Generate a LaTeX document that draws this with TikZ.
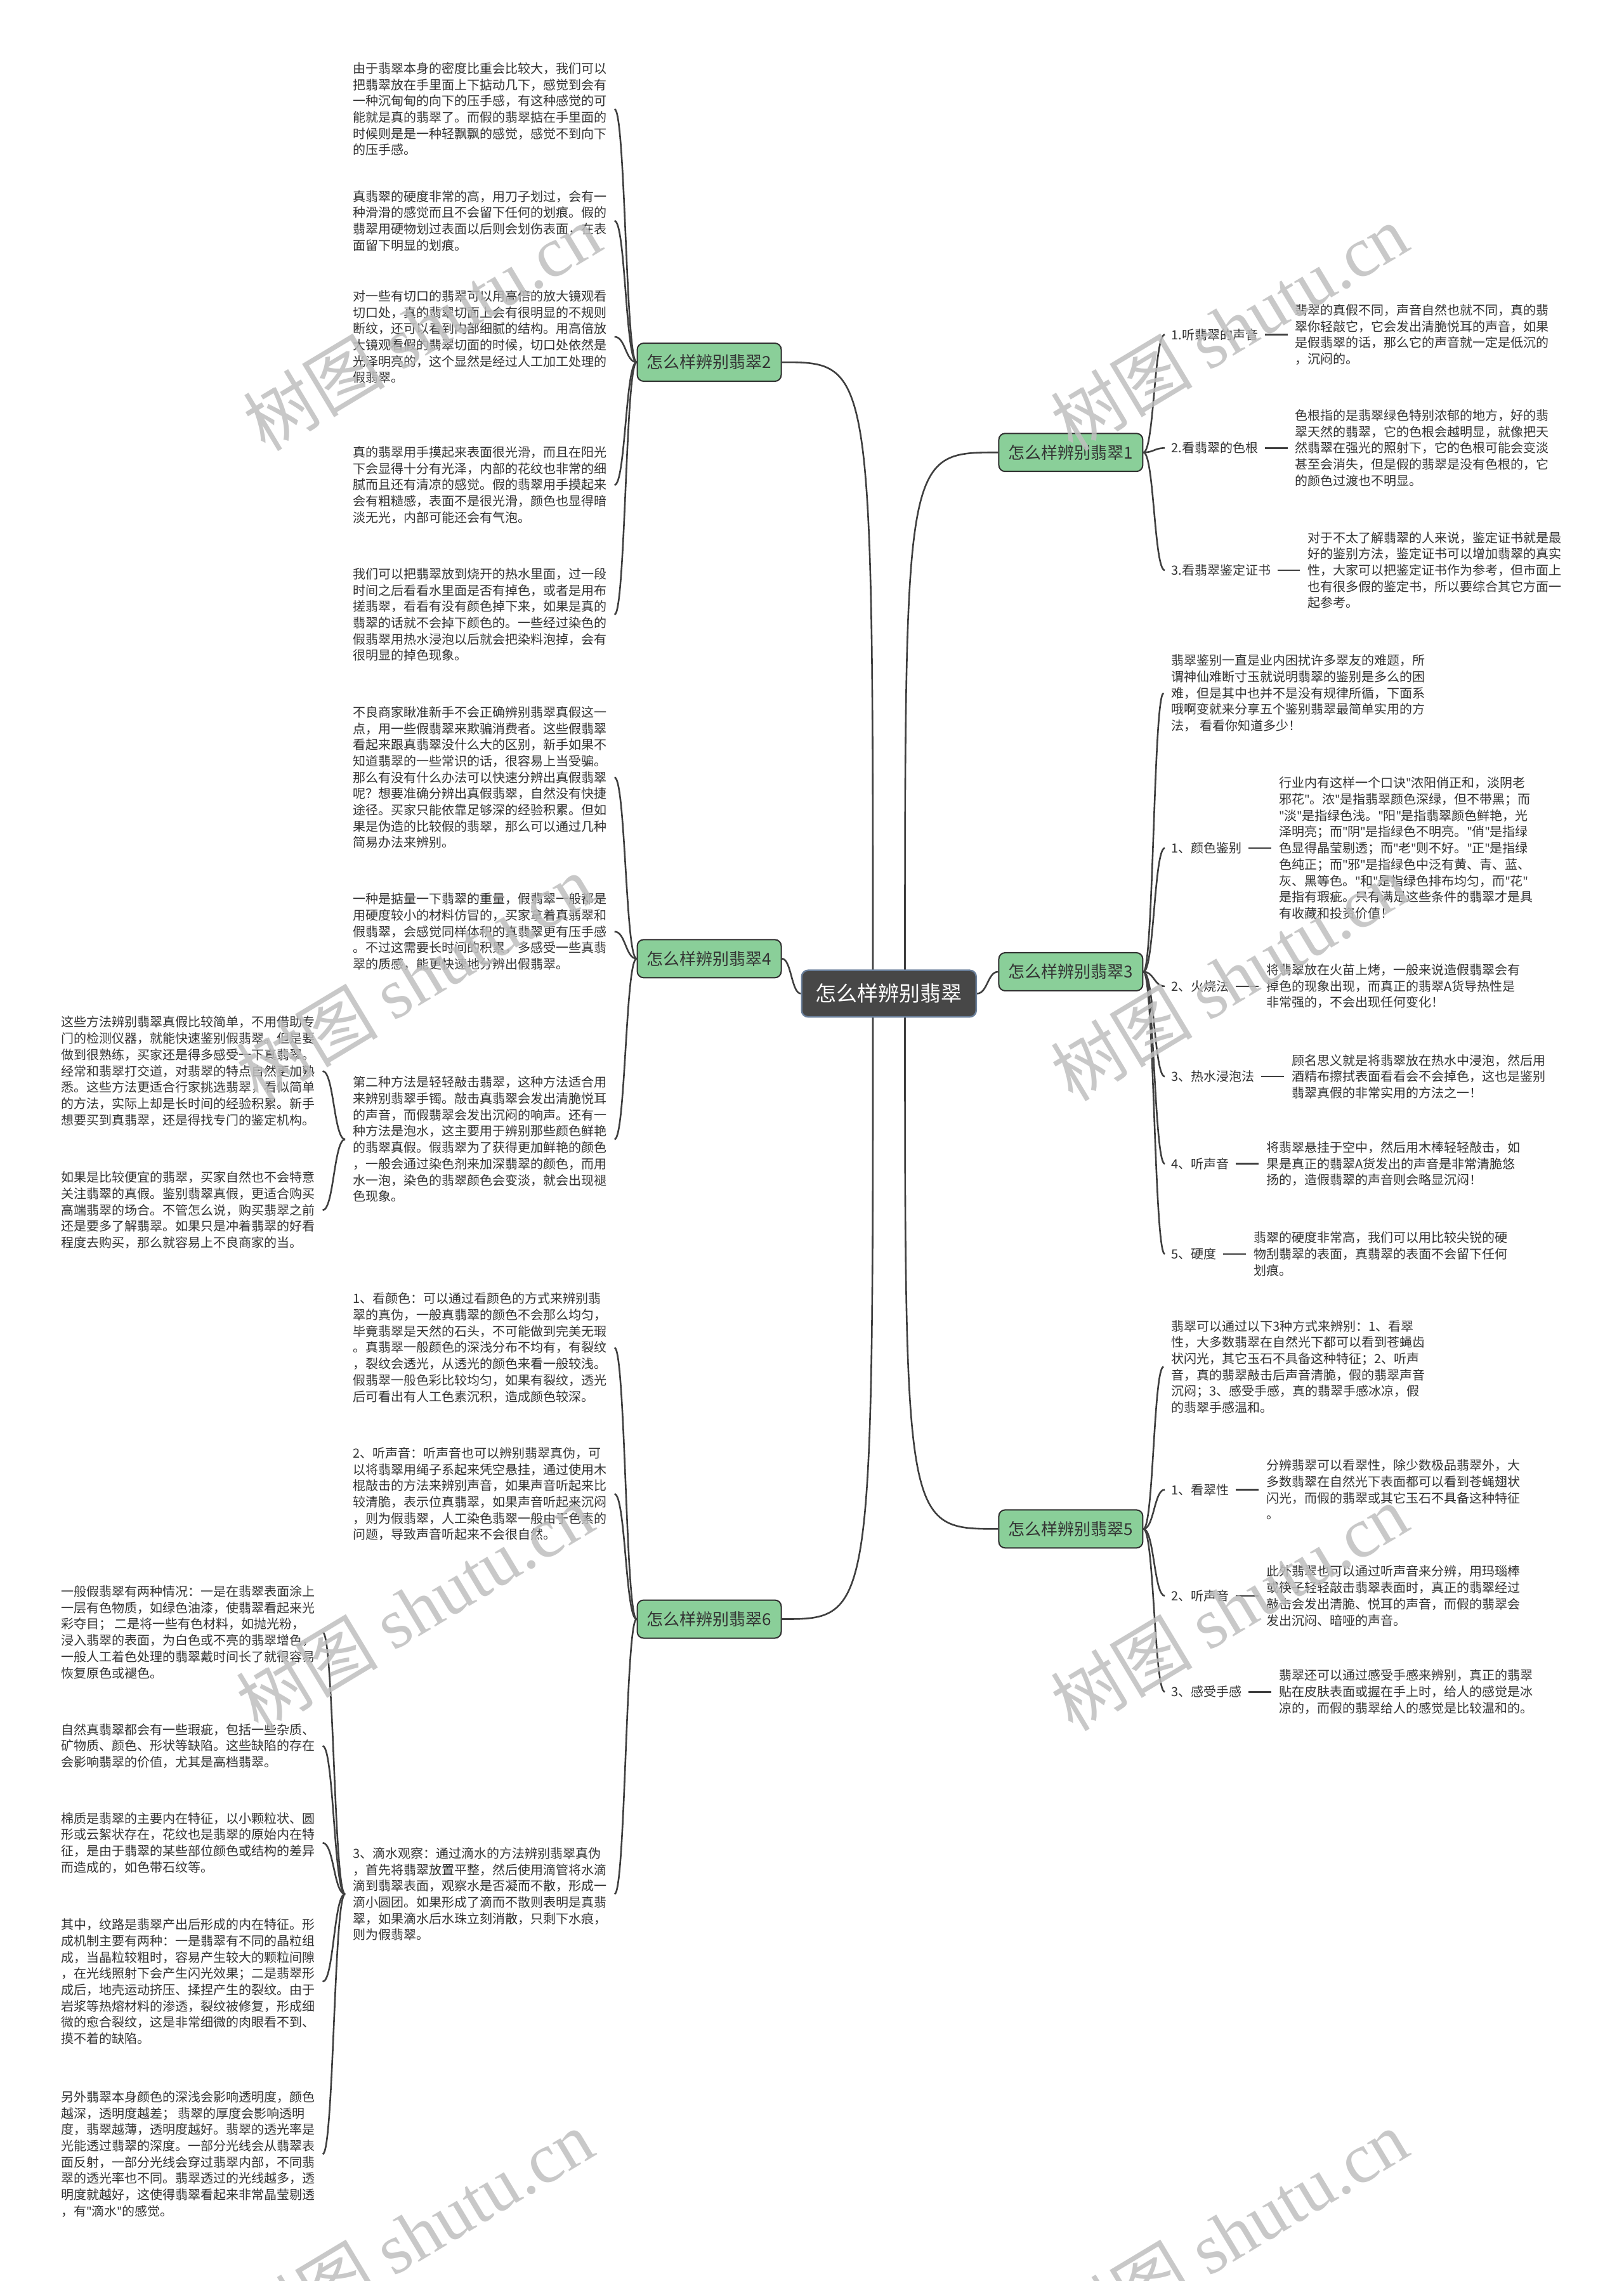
\documentclass[tikz,border=0pt]{standalone}
\usepackage{fontspec}
\setmainfont{Noto Sans CJK SC}
\newfontfamily\wmfont{Liberation Serif}
\newfontfamily\qf{Noto Sans}
\newcommand\qq{{\qf"}}
\usetikzlibrary{calc,backgrounds,positioning}
\definecolor{txtc}{HTML}{333333}
\definecolor{lnc}{HTML}{3F3F3F}
\definecolor{grn}{HTML}{8ACF99}
\definecolor{brd}{HTML}{2F2F2F}
\definecolor{rootf}{HTML}{474747}
\definecolor{rootb}{HTML}{6A7F9A}
\newcommand\mmconn[2]{\draw[conn] (#1) .. controls ($(#1)!0.5!(#2 |- #1)$) and ($(#2)!0.5!(#1 |- #2)$) .. (#2);}
\tikzset{
  txt/.style={align=left, inner xsep=6pt, inner ysep=2pt, text=txtc, font=\fontsize{10}{12.85}\selectfont, anchor=west},
  lbl/.style={inner xsep=5pt, inner ysep=2pt, text=txtc, font=\fontsize{10}{12.85}\selectfont, anchor=west},
  branch/.style={draw=brd, fill=grn, rounded corners=5pt, line width=1pt, minimum width=113.5pt, minimum height=30pt, inner sep=2pt, font=\fontsize{13}{15}\selectfont, text=txtc},
  root/.style={draw=rootb, fill=rootf, rounded corners=5pt, line width=1.2pt, minimum width=137.6pt, minimum height=36.7pt, inner sep=2pt, font=\fontsize{16.5}{18}\selectfont, text=white},
  conn/.style={draw=lnc, line width=1.3pt},
  wm/.style={rotate=31, text=black!25, text opacity=0.85, font=\fontsize{56}{60}\selectfont, inner sep=0pt}
}
\begin{document}
\begin{tikzpicture}[x=1.147pt,y=-1.147pt]
\useasboundingbox (0,0) rectangle (1116,1568);

% root and branches
\node[root] (root) at (611,683) {怎么样辨别翡翠};
\node[branch] (b2) at (487.5,249) {怎么样辨别翡翠2};
\node[branch] (b4) at (487.5,659) {怎么样辨别翡翠4};
\node[branch] (b6) at (487.5,1113) {怎么样辨别翡翠6};
\node[branch] (b1) at (736,311) {怎么样辨别翡翠1};
\node[branch] (b3) at (736,668) {怎么样辨别翡翠3};
\node[branch] (b5) at (736,1051) {怎么样辨别翡翠5};
\coordinate (cl) at (600,683);
\coordinate (cr) at (622,683);

% branch 2
\node[txt] (t2a) at (237.2,75) {由于翡翠本身的密度比重会比较大，我们可以\\把翡翠放在手里面上下掂动几下，感觉到会有\\一种沉甸甸的向下的压手感，有这种感觉的可\\能就是真的翡翠了。而假的翡翠掂在手里面的\\时候则是是一种轻飘飘的感觉，感觉不到向下\\的压手感。};
\node[txt] (t2b) at (237.2,151.8) {真翡翠的硬度非常的高，用刀子划过，会有一\\种滑滑的感觉而且不会留下任何的划痕。假的\\翡翠用硬物划过表面以后则会划伤表面，在表\\面留下明显的划痕。};
\node[txt] (t2c) at (237.2,231.5) {对一些有切口的翡翠可以用高倍的放大镜观看\\切口处，真的翡翠切面上会有很明显的不规则\\断纹，还可以看到内部细腻的结构。用高倍放\\大镜观看假的翡翠切面的时候，切口处依然是\\光泽明亮的，这个显然是经过人工加工处理的\\假翡翠。};
\node[txt] (t2d) at (237.2,333.4) {真的翡翠用手摸起来表面很光滑，而且在阳光\\下会显得十分有光泽，内部的花纹也非常的细\\腻而且还有清凉的感觉。假的翡翠用手摸起来\\会有粗糙感，表面不是很光滑，颜色也显得暗\\淡无光，内部可能还会有气泡。};
\node[txt] (t2e) at (237.2,422.5) {我们可以把翡翠放到烧开的热水里面，过一段\\时间之后看看水里面是否有掉色，或者是用布\\搓翡翠，看看有没有颜色掉下来，如果是真的\\翡翠的话就不会掉下颜色的。一些经过染色的\\假翡翠用热水浸泡以后就会把染料泡掉，会有\\很明显的掉色现象。};

% branch 4
\node[txt] (t4a) at (237.2,534.4) {不良商家瞅准新手不会正确辨别翡翠真假这一\\点，用一些假翡翠来欺骗消费者。这些假翡翠\\看起来跟真翡翠没什么大的区别，新手如果不\\知道翡翠的一些常识的话，很容易上当受骗。\\那么有没有什么办法可以快速分辨出真假翡翠\\呢？想要准确分辨出真假翡翠，自然没有快捷\\途径。买家只能依靠足够深的经验积累。但如\\果是伪造的比较假的翡翠，那么可以通过几种\\简易办法来辨别。};
\node[txt] (t4b) at (237.2,640.4) {一种是掂量一下翡翠的重量，假翡翠一般都是\\用硬度较小的材料仿冒的，买家拿着真翡翠和\\假翡翠，会感觉同样体积的真翡翠更有压手感\\。不过这需要长时间的积累，多感受一些真翡\\翠的质感，能更快速地分辨出假翡翠。};
\node[txt] (t4c) at (237.2,783.2) {第二种方法是轻轻敲击翡翠，这种方法适合用\\来辨别翡翠手镯。敲击真翡翠会发出清脆悦耳\\的声音，而假翡翠会发出沉闷的响声。还有一\\种方法是泡水，这主要用于辨别那些颜色鲜艳\\的翡翠真假。假翡翠为了获得更加鲜艳的颜色\\，一般会通过染色剂来加深翡翠的颜色，而用\\水一泡，染色的翡翠颜色会变淡，就会出现褪\\色现象。};
\node[txt] (f4a) at (36.6,736.3) {这些方法辨别翡翠真假比较简单，不用借助专\\门的检测仪器，就能快速鉴别假翡翠。但是要\\做到很熟练，买家还是得多感受一下真翡翠。\\经常和翡翠打交道，对翡翠的特点自然更加熟\\悉。这些方法更适合行家挑选翡翠，看似简单\\的方法，实际上却是长时间的经验积累。新手\\想要买到真翡翠，还是得找专门的鉴定机构。};
\node[txt] (f4b) at (36.6,831.9) {如果是比较便宜的翡翠，买家自然也不会特意\\关注翡翠的真假。鉴别翡翠真假，更适合购买\\高端翡翠的场合。不管怎么说，购买翡翠之前\\还是要多了解翡翠。如果只是冲着翡翠的好看\\程度去购买，那么就容易上不良商家的当。};

% branch 6
\node[txt] (t6a) at (237.2,926.4) {1、看颜色：可以通过看颜色的方式来辨别翡\\翠的真伪，一般真翡翠的颜色不会那么均匀，\\毕竟翡翠是天然的石头，不可能做到完美无瑕\\。真翡翠一般颜色的深浅分布不均有，有裂纹\\，裂纹会透光，从透光的颜色来看一般较浅。\\假翡翠一般色彩比较均匀，如果有裂纹，透光\\后可看出有人工色素沉积，造成颜色较深。};
\node[txt] (t6b) at (237.2,1027) {2、听声音：听声音也可以辨别翡翠真伪，可\\以将翡翠用绳子系起来凭空悬挂，通过使用木\\棍敲击的方法来辨别声音，如果声音听起来比\\较清脆，表示位真翡翠，如果声音听起来沉闷\\，则为假翡翠，人工染色翡翠一般由于色素的\\问题，导致声音听起来不会很自然。};
\node[txt] (t6c) at (237.2,1302) {3、滴水观察：通过滴水的方法辨别翡翠真伪\\，首先将翡翠放置平整，然后使用滴管将水滴\\滴到翡翠表面，观察水是否凝而不散，形成一\\滴小圆团。如果形成了滴而不散则表明是真翡\\翠，如果滴水后水珠立刻消散，只剩下水痕，\\则为假翡翠。};
\node[txt] (f6a) at (36.6,1122) {一般假翡翠有两种情况：一是在翡翠表面涂上\\一层有色物质，如绿色油漆，使翡翠看起来光\\彩夺目； 二是将一些有色材料，如抛光粉，\\浸入翡翠的表面，为白色或不亮的翡翠增色，\\一般人工着色处理的翡翠戴时间长了就很容易\\恢复原色或褪色。};
\node[txt] (f6b) at (36.6,1200.2) {自然真翡翠都会有一些瑕疵，包括一些杂质、\\矿物质、颜色、形状等缺陷。这些缺陷的存在\\会影响翡翠的价值，尤其是高档翡翠。};
\node[txt] (f6c) at (36.6,1266.8) {棉质是翡翠的主要内在特征，以小颗粒状、圆\\形或云絮状存在，花纹也是翡翠的原始内在特\\征，是由于翡翠的某些部位颜色或结构的差异\\而造成的，如色带石纹等。};
\node[txt] (f6d) at (36.6,1362.2) {其中，纹路是翡翠产出后形成的内在特征。形\\成机制主要有两种：一是翡翠有不同的晶粒组\\成，当晶粒较粗时，容易产生较大的颗粒间隙\\，在光线照射下会产生闪光效果；二是翡翠形\\成后，地壳运动挤压、揉捏产生的裂纹。由于\\岩浆等热熔材料的渗透，裂纹被修复，形成细\\微的愈合裂纹，这是非常细微的肉眼看不到、\\摸不着的缺陷。};
\node[txt] (f6e) at (36.6,1480.8) {另外翡翠本身颜色的深浅会影响透明度，颜色\\越深，透明度越差； 翡翠的厚度会影响透明\\度，翡翠越薄，透明度越好。翡翠的透光率是\\光能透过翡翠的深度。一部分光线会从翡翠表\\面反射，一部分光线会穿过翡翠内部，不同翡\\翠的透光率也不同。翡翠透过的光线越多，透\\明度就越好，这使得翡翠看起来非常晶莹剔透\\，有\qq 滴水\qq 的感觉。};

% branch 1
\node[lbl] (l1a) at (800.6,230) {1.听翡翠的声音};
\node[txt, right=18pt of l1a] (r1a) {翡翠的真假不同，声音自然也就不同，真的翡\\翠你轻敲它，它会发出清脆悦耳的声音，如果\\是假翡翠的话，那么它的声音就一定是低沉的\\，沉闷的。};
\node[lbl] (l1b) at (800.6,308) {2.看翡翠的色根};
\node[txt, right=18pt of l1b] (r1b) {色根指的是翡翠绿色特别浓郁的地方，好的翡\\翠天然的翡翠，它的色根会越明显，就像把天\\然翡翠在强光的照射下，它的色根可能会变淡\\甚至会消失，但是假的翡翠是没有色根的，它\\的颜色过渡也不明显。};
\node[lbl] (l1c) at (800.6,392) {3.看翡翠鉴定证书};
\node[txt, right=18pt of l1c] (r1c) {对于不太了解翡翠的人来说，鉴定证书就是最\\好的鉴别方法，鉴定证书可以增加翡翠的真实\\性，大家可以把鉴定证书作为参考，但市面上\\也有很多假的鉴定书，所以要综合其它方面一\\起参考。};

% branch 3
\node[txt] (r3a) at (799.8,476.5) {翡翠鉴别一直是业内困扰许多翠友的难题，所\\谓神仙难断寸玉就说明翡翠的鉴别是多么的困\\难，但是其中也并不是没有规律所循，下面系\\哦啊变就来分享五个鉴别翡翠最简单实用的方\\法， 看看你知道多少！};
\node[lbl] (l3b) at (800.6,583) {1、颜色鉴别};
\node[txt, right=18pt of l3b] (r3b) {行业内有这样一个口诀\qq 浓阳俏正和，淡阴老\\邪花\qq 。浓\qq 是指翡翠颜色深绿，但不带黑；而\\\qq 淡\qq 是指绿色浅。\qq 阳\qq 是指翡翠颜色鲜艳，光\\泽明亮；而\qq 阴\qq 是指绿色不明亮。\qq 俏\qq 是指绿\\色显得晶莹剔透；而\qq 老\qq 则不好。\qq 正\qq 是指绿\\色纯正；而\qq 邪\qq 是指绿色中泛有黄、青、蓝、\\灰、黑等色。\qq 和\qq 是指绿色排布均匀，而\qq 花\qq \\是指有瑕疵。只有满足这些条件的翡翠才是具\\有收藏和投资价值！};
\node[lbl] (l3c) at (800.6,678) {2、火烧法};
\node[txt, right=18pt of l3c] (r3c) {将翡翠放在火苗上烤，一般来说造假翡翠会有\\掉色的现象出现，而真正的翡翠A货导热性是\\非常强的，不会出现任何变化！};
\node[lbl] (l3d) at (800.6,740) {3、热水浸泡法};
\node[txt, right=18pt of l3d] (r3d) {顾名思义就是将翡翠放在热水中浸泡，然后用\\酒精布擦拭表面看看会不会掉色，这也是鉴别\\翡翠真假的非常实用的方法之一！};
\node[lbl] (l3e) at (800.6,800) {4、听声音};
\node[txt, right=18pt of l3e] (r3e) {将翡翠悬挂于空中，然后用木棒轻轻敲击，如\\果是真正的翡翠A货发出的声音是非常清脆悠\\扬的，造假翡翠的声音则会略显沉闷！};
\node[lbl] (l3f) at (800.6,862) {5、硬度};
\node[txt, right=18pt of l3f] (r3f) {翡翠的硬度非常高，我们可以用比较尖锐的硬\\物刮翡翠的表面，真翡翠的表面不会留下任何\\划痕。};

% branch 5
\node[txt] (r5a) at (799.8,939.5) {翡翠可以通过以下3种方式来辨别：1、看翠\\性，大多数翡翠在自然光下都可以看到苍蝇齿\\状闪光，其它玉石不具备这种特征；2、听声\\音，真的翡翠敲击后声音清脆，假的翡翠声音\\沉闷；3、感受手感，真的翡翠手感冰凉，假\\的翡翠手感温和。};
\node[lbl] (l5b) at (800.6,1024) {1、看翠性};
\node[txt, right=18pt of l5b] (r5b) {分辨翡翠可以看翠性，除少数极品翡翠外，大\\多数翡翠在自然光下表面都可以看到苍蝇翅状\\闪光，而假的翡翠或其它玉石不具备这种特征\\。};
\node[lbl] (l5c) at (800.6,1097) {2、听声音};
\node[txt, right=18pt of l5c] (r5c) {此外翡翠也可以通过听声音来分辨，用玛瑙棒\\或筷子轻轻敲击翡翠表面时，真正的翡翠经过\\敲击会发出清脆、悦耳的声音，而假的翡翠会\\发出沉闷、暗哑的声音。};
\node[lbl] (l5d) at (800.6,1163) {3、感受手感};
\node[txt, right=18pt of l5d] (r5d) {翡翠还可以通过感受手感来辨别，真正的翡翠\\贴在皮肤表面或握在手上时，给人的感觉是冰\\凉的，而假的翡翠给人的感觉是比较温和的。};

\begin{scope}[on background layer]
\fill[white] (0,0) rectangle (1116,1568);
% center connectors
\draw[conn] (cl) .. controls (cl |- b2.east) .. (b2.east);
\draw[conn] (cl) .. controls (cl |- b6.east) .. (b6.east);
\mmconn{root.west}{b4.east}
\draw[conn] (cr) .. controls (cr |- b1.west) .. (b1.west);
\draw[conn] (cr) .. controls (cr |- b5.west) .. (b5.west);
\mmconn{root.east}{b3.west}
% left
\mmconn{b2.west}{t2a.east}
\mmconn{b2.west}{t2b.east}
\mmconn{b2.west}{t2c.east}
\mmconn{b2.west}{t2d.east}
\mmconn{b2.west}{t2e.east}
\mmconn{b4.west}{t4a.east}
\mmconn{b4.west}{t4b.east}
\mmconn{b4.west}{t4c.east}
\mmconn{t4c.west}{f4a.east}
\mmconn{t4c.west}{f4b.east}
\mmconn{b6.west}{t6a.east}
\mmconn{b6.west}{t6b.east}
\mmconn{b6.west}{t6c.east}
\mmconn{t6c.west}{f6a.east}
\mmconn{t6c.west}{f6b.east}
\mmconn{t6c.west}{f6c.east}
\mmconn{t6c.west}{f6d.east}
\mmconn{t6c.west}{f6e.east}
% right
\mmconn{b1.east}{l1a.west}
\mmconn{b1.east}{l1b.west}
\mmconn{b1.east}{l1c.west}
\mmconn{b3.east}{r3a.west}
\mmconn{b3.east}{l3b.west}
\mmconn{b3.east}{l3c.west}
\mmconn{b3.east}{l3d.west}
\mmconn{b3.east}{l3e.west}
\mmconn{b3.east}{l3f.west}
\mmconn{b5.east}{r5a.west}
\mmconn{b5.east}{l5b.west}
\mmconn{b5.east}{l5c.west}
\mmconn{b5.east}{l5d.west}
% dashes
\draw[conn] (l1a.east) -- (r1a.west);
\draw[conn] (l1b.east) -- (r1b.west);
\draw[conn] (l1c.east) -- (r1c.west);
\draw[conn] (l3b.east) -- (r3b.west);
\draw[conn] (l3c.east) -- (r3c.west);
\draw[conn] (l3d.east) -- (r3d.west);
\draw[conn] (l3e.east) -- (r3e.west);
\draw[conn] (l3f.east) -- (r3f.west);
\draw[conn] (l5b.east) -- (r5b.west);
\draw[conn] (l5c.east) -- (r5c.west);
\draw[conn] (l5d.east) -- (r5d.west);
\end{scope}

% watermarks
\node[wm] (w1) at (290,225) {树图 {\wmfont shutu.cn}};
\node[wm] (w2) at (845,225) {树图 {\wmfont shutu.cn}};
\node[wm] (w3) at (285,672) {树图 {\wmfont shutu.cn}};
\node[wm] (w4) at (845,672) {树图 {\wmfont shutu.cn}};
\node[wm] (w5) at (285,1105) {树图 {\wmfont shutu.cn}};
\node[wm] (w6) at (845,1105) {树图 {\wmfont shutu.cn}};
\node[wm] (w7) at (285,1535) {树图 {\wmfont shutu.cn}};
\node[wm] (w8) at (845,1535) {树图 {\wmfont shutu.cn}};
\end{tikzpicture}
\end{document}
